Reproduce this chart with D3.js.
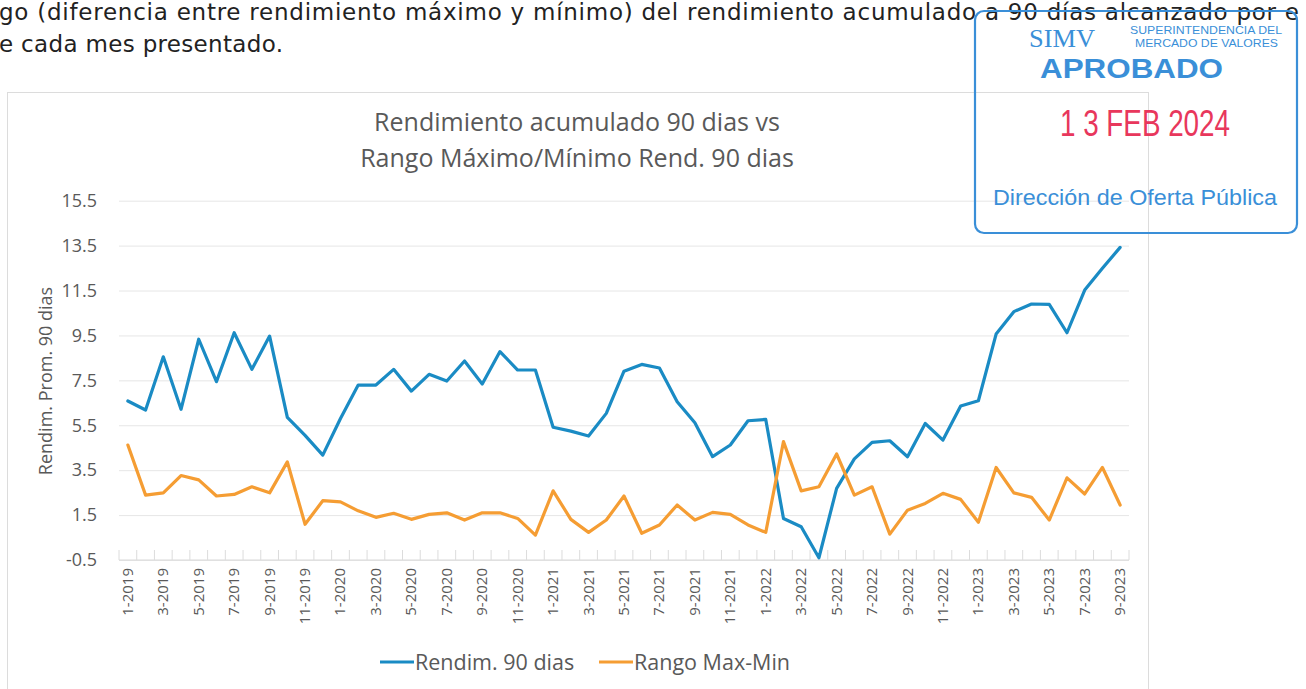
<!DOCTYPE html>
<html>
<head>
<meta charset="utf-8">
<script src="https://cdn.jsdelivr.net/npm/d3@7"></script>
<style>
  html, body { margin: 0; padding: 0; background: #fff; overflow: hidden; }
  svg { display: block; }
</style>
</head>
<body>
<svg width="1306" height="689"></svg>
<script>
// categories (month-year)
const months = [
  "1-2019","2-2019","3-2019","4-2019","5-2019","6-2019","7-2019","8-2019","9-2019","10-2019","11-2019","12-2019",
  "1-2020","2-2020","3-2020","4-2020","5-2020","6-2020","7-2020","8-2020","9-2020","10-2020","11-2020","12-2020",
  "1-2021","2-2021","3-2021","4-2021","5-2021","6-2021","7-2021","8-2021","9-2021","10-2021","11-2021","12-2021",
  "1-2022","2-2022","3-2022","4-2022","5-2022","6-2022","7-2022","8-2022","9-2022","10-2022","11-2022","12-2022",
  "1-2023","2-2023","3-2023","4-2023","5-2023","6-2023","7-2023","8-2023","9-2023"
];

// Rendim. 90 dias
const rendim = [
  6.58, 6.18, 8.55, 6.21, 9.33, 7.44, 9.62, 7.99, 9.47, 5.85, 5.05, 4.17,
  5.8, 7.29, 7.29, 7.99, 7.02, 7.77, 7.47, 8.36, 7.34, 8.78, 7.96, 7.96,
  5.41, 5.24, 5.02, 6.03, 7.91, 8.21, 8.05, 6.55, 5.61, 4.1, 4.62, 5.7,
  5.76, 1.35, 0.98, -0.4, 2.69, 4.0, 4.74, 4.81, 4.1, 5.58, 4.84, 6.36,
  6.59, 9.56, 10.56, 10.9, 10.88, 9.62, 11.52, 12.49, 13.42
];

// Rango Max-Min
const rango = [
  4.62, 2.39, 2.49, 3.26, 3.07, 2.35, 2.42, 2.76, 2.49, 3.87, 1.09, 2.14,
  2.09, 1.69, 1.4, 1.58, 1.31, 1.53, 1.6, 1.28, 1.6, 1.6, 1.35, 0.61,
  2.58, 1.31, 0.73, 1.28, 2.35, 0.69, 1.06, 1.95, 1.28, 1.62, 1.53, 1.06,
  0.73, 4.77, 2.58, 2.76, 4.22, 2.39, 2.76, 0.65, 1.72, 2.02, 2.47, 2.2,
  1.18, 3.62, 2.49, 2.29, 1.28, 3.16, 2.44, 3.62, 1.95
];

const yTicks = [-0.5, 1.5, 3.5, 5.5, 7.5, 9.5, 11.5, 13.5, 15.5];
const xTickLabels = months.filter((m, i) => i % 2 === 0);

const seriesNames = ["Rendim. 90 dias", "Rango Max-Min"];
const colors = ["#1a8bc4", "#f59d33"];

const textGray = "#595959";
const font = "'Open Sans', 'Noto Sans', sans-serif";
const pageFont = "'DejaVu Sans', sans-serif";

const svg = d3.select("svg");

// page text above the chart
svg.append("text")
  .attr("x", -1).attr("y", 20)
  .attr("font-family", pageFont).attr("font-size", 23).attr("fill", "#222")
  .attr("textLength", 1300)
  .text("go (diferencia entre rendimiento máximo y mínimo) del rendimiento acumulado a 90 días alcanzado por e");
svg.append("text")
  .attr("x", -1).attr("y", 52)
  .attr("font-family", pageFont).attr("font-size", 23).attr("fill", "#222")
  .attr("textLength", 284)
  .text("e cada mes presentado.");

// chart frame
svg.append("rect")
  .attr("x", 7.5).attr("y", 92.5)
  .attr("width", 1141).attr("height", 620)
  .attr("fill", "none").attr("stroke", "#dcdcdc");

const plot = { left: 119, right: 1129, top: 200.7, bottom: 560 };

const x = d3.scaleBand()
  .domain(months)
  .range([plot.left, plot.right])
  .paddingInner(0).paddingOuter(0);
const cx = d => x(d) + x.bandwidth() / 2;

const y = d3.scaleLinear()
  .domain([-0.5, 15.5])
  .range([plot.bottom, plot.top]);

// gridlines + y labels
const yAxis = d3.axisLeft(y)
  .tickValues(yTicks)
  .tickSize(-(plot.right - plot.left))
  .tickPadding(22)
  .tickFormat(d => d.toFixed(1));

const gy = svg.append("g")
  .attr("transform", `translate(${plot.left},0)`)
  .call(yAxis);
gy.select(".domain").remove();
gy.selectAll(".tick line").attr("stroke", "#e6e6e6").attr("stroke-width", 1);
gy.selectAll(".tick text")
  .attr("font-family", font).attr("font-size", 18).attr("fill", textGray);

// bottom axis line with boundary ticks
svg.append("line")
  .attr("x1", plot.left).attr("x2", plot.right)
  .attr("y1", y(-0.5)).attr("y2", y(-0.5))
  .attr("stroke", "#d9d9d9");
svg.append("g").selectAll("line")
  .data(months.concat([null]))
  .join("line")
  .attr("x1", (d, i) => plot.left + i * x.bandwidth())
  .attr("x2", (d, i) => plot.left + i * x.bandwidth())
  .attr("y1", y(-0.5) - 10).attr("y2", y(-0.5))
  .attr("stroke", "#dcdcdc");

// x labels
svg.append("g").selectAll("text")
  .data(xTickLabels)
  .join("text")
  .attr("transform", d => `translate(${cx(d) + 5},${y(-0.5) + 8}) rotate(-90)`)
  .attr("text-anchor", "end")
  .attr("font-family", font).attr("font-size", 15).attr("fill", textGray)
  .text(d => d);

// lines
const line = d3.line()
  .x((d, i) => cx(months[i]))
  .y(d => y(d));

[rendim, rango].forEach((s, k) => {
  svg.append("path")
    .datum(s)
    .attr("d", line)
    .attr("fill", "none")
    .attr("stroke", colors[k])
    .attr("stroke-width", 3.2)
    .attr("stroke-linejoin", "round")
    .attr("stroke-linecap", "round");
});

// title
const title = svg.append("text")
  .attr("text-anchor", "middle")
  .attr("font-family", font).attr("font-size", 25).attr("fill", textGray);
title.append("tspan").attr("x", 577).attr("y", 131).text("Rendimiento acumulado 90 dias vs");
title.append("tspan").attr("x", 577).attr("y", 167).text("Rango Máximo/Mínimo Rend. 90 dias");

// y axis title
svg.append("text")
  .attr("transform", "translate(52,381) rotate(-90)")
  .attr("text-anchor", "middle")
  .attr("font-family", font).attr("font-size", 18).attr("fill", textGray)
  .text("Rendim. Prom. 90 dias");

// legend
const legendX = [380, 599];
seriesNames.forEach((name, k) => {
  const g = svg.append("g").attr("transform", `translate(${legendX[k]},662)`);
  g.append("line").attr("x1", 0).attr("x2", 34).attr("y1", 0).attr("y2", 0)
    .attr("stroke", colors[k]).attr("stroke-width", 3.2);
  g.append("text").attr("x", 35).attr("y", 8)
    .attr("font-family", font).attr("font-size", 21.5).attr("fill", textGray)
    .text(name);
});

// approval stamp (ink over the page, transparent)
const stampBlue = "#3a8fd8";
const stamp = svg.append("g");
stamp.append("rect")
  .attr("x", 975).attr("y", 11).attr("width", 322).attr("height", 222).attr("rx", 9)
  .attr("fill", "none")
  .attr("stroke", stampBlue).attr("stroke-width", 2.2);
stamp.append("text")
  .attr("x", 1029).attr("y", 47)
  .attr("font-family", "'Liberation Serif', serif").attr("font-size", 26).attr("fill", stampBlue)
  .attr("textLength", 66).attr("lengthAdjust", "spacingAndGlyphs")
  .text("SIMV");
stamp.append("text")
  .attr("x", 1130).attr("y", 34)
  .attr("font-family", "'Liberation Sans', sans-serif").attr("font-size", 11).attr("fill", stampBlue)
  .attr("textLength", 152).attr("lengthAdjust", "spacingAndGlyphs")
  .text("SUPERINTENDENCIA DEL");
stamp.append("text")
  .attr("x", 1135).attr("y", 47)
  .attr("font-family", "'Liberation Sans', sans-serif").attr("font-size", 11).attr("fill", stampBlue)
  .attr("textLength", 143).attr("lengthAdjust", "spacingAndGlyphs")
  .text("MERCADO DE VALORES");
stamp.append("text")
  .attr("x", 1040).attr("y", 78)
  .attr("font-family", "'Liberation Sans', sans-serif").attr("font-weight", "bold")
  .attr("font-size", 27).attr("fill", stampBlue)
  .attr("textLength", 183).attr("lengthAdjust", "spacingAndGlyphs")
  .text("APROBADO");
stamp.append("text")
  .attr("x", 1060).attr("y", 136)
  .attr("font-family", "'Liberation Sans', sans-serif")
  .attr("font-size", 36).attr("fill", "#e8375c")
  .attr("textLength", 170).attr("lengthAdjust", "spacingAndGlyphs")
  .text("1 3 FEB 2024");
stamp.append("text")
  .attr("x", 993).attr("y", 205)
  .attr("font-family", "'Liberation Sans', sans-serif").attr("font-size", 22).attr("fill", stampBlue)
  .attr("textLength", 284).attr("lengthAdjust", "spacingAndGlyphs")
  .text("Dirección de Oferta Pública");
</script>
</body>
</html>
